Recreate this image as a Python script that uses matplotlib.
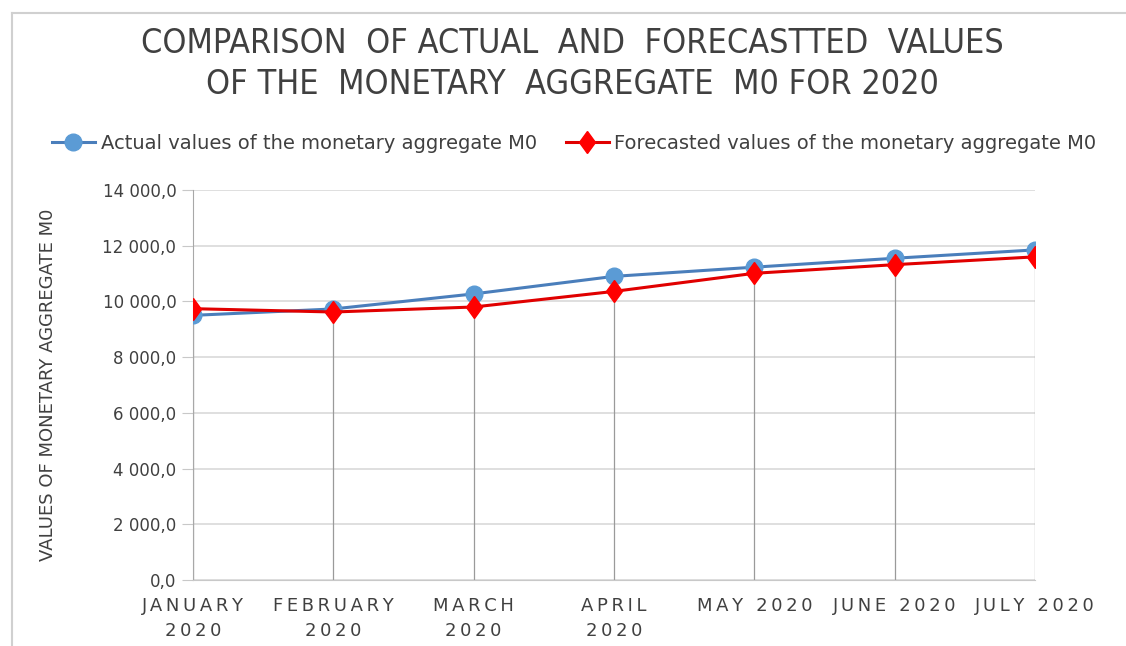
import numpy as np
import matplotlib
matplotlib.use("Agg")
from matplotlib import pyplot as plt
from matplotlib.markers import MarkerStyle
from matplotlib.transforms import Affine2D

# Data (monetary aggregate M0, 2020)
months = ["JANUARY\n2020", "FEBRUARY\n2020", "MARCH\n2020", "APRIL\n2020",
          "MAY 2020", "JUNE 2020", "JULY 2020"]
actual = [9500, 9730, 10270, 10900, 11230, 11550, 11850]
forecast = [9740, 9620, 9800, 10360, 11010, 11320, 11600]
yticks = [0, 2000, 4000, 6000, 8000, 10000, 12000, 14000]

plt.rcParams["font.family"] = ["DejaVu Sans"]

def spaced(s):
    # emulate the letter spacing of the axis labels
    return "\n".join("\u2009".join(line) for line in s.split("\n"))

fig = plt.figure(figsize=(11.26, 6.46), dpi=100)
ax = fig.add_axes([193/1126, 1 - 580/646, (1035-193)/1126, (580-190)/646])

x = np.arange(len(months))

# drop lines from the highest point to the axis
top = np.maximum(actual, forecast)
ax.vlines(x, 0, top, color="#9a9a9a", lw=0.9, zorder=1)

ax.plot(x, actual, color="#4a7ebb", lw=2.2, marker="o", ms=12,
        mfc="#5b9bd5", mec="#5b9bd5", zorder=3,
        label="Actual values of the monetary aggregate M0")
diamond = MarkerStyle("D", transform=Affine2D().scale(0.75, 1.0))
ax.plot(x, forecast, color="#e00000", lw=2.2, marker=diamond, ms=11,
        mfc="#ff0000", mec="#ff0000", zorder=4,
        label="Forecasted values of the monetary aggregate M0")

ax.set_xlim(0, len(months) - 1)
ax.set_ylim(0, 14000)
ax.set_yticks(yticks)
ax.set_yticklabels([f"{v:,.1f}".replace(",", " ").replace(".", ",") for v in yticks],
                   fontsize=12, color="#404040")
ax.set_xticks(x)
ax.set_xticklabels([spaced(m) for m in months], fontsize=13, color="#404040",
                   linespacing=1.5)
ax.tick_params(axis="x", length=0, pad=12)
ax.tick_params(axis="y", length=8, color="#c8c8c8", pad=4)
ax.grid(axis="y", color="#d9d9d9", lw=1.2)
ax.set_axisbelow(True)
for s in ["top", "right"]:
    ax.spines[s].set_visible(False)
ax.spines["left"].set_color("#a8a8a8")
ax.spines["bottom"].set_color("#c8c8c8")

ax.set_ylabel("VALUES OF MONETARY AGGREGATE M0", fontsize=13, color="#404040",
              labelpad=33)

fig.text(0.508, 1 - 64/646,
         "COMPARISON  OF ACTUAL  AND  FORECASTTED  VALUES\nOF THE  MONETARY  AGGREGATE  M0 FOR 2020",
         ha="center", va="center", fontsize=24.5, color="#404040", linespacing=1.3,
         fontstretch="condensed")

fig.legend(loc="center", bbox_to_anchor=(0.51, 1 - 143/646), ncol=2, frameon=False,
           fontsize=14, handlelength=2.2, columnspacing=1.5, handletextpad=0.3,
           labelcolor="#404040")

# chart border
fig.add_artist(plt.Line2D([12/1126, 12/1126], [0, 1 - 13/646], color="#d0d0d0", lw=1.5))
fig.add_artist(plt.Line2D([12/1126, 1], [1 - 13/646, 1 - 13/646], color="#d0d0d0", lw=1.5))

fig.savefig("out.png", dpi=100)
